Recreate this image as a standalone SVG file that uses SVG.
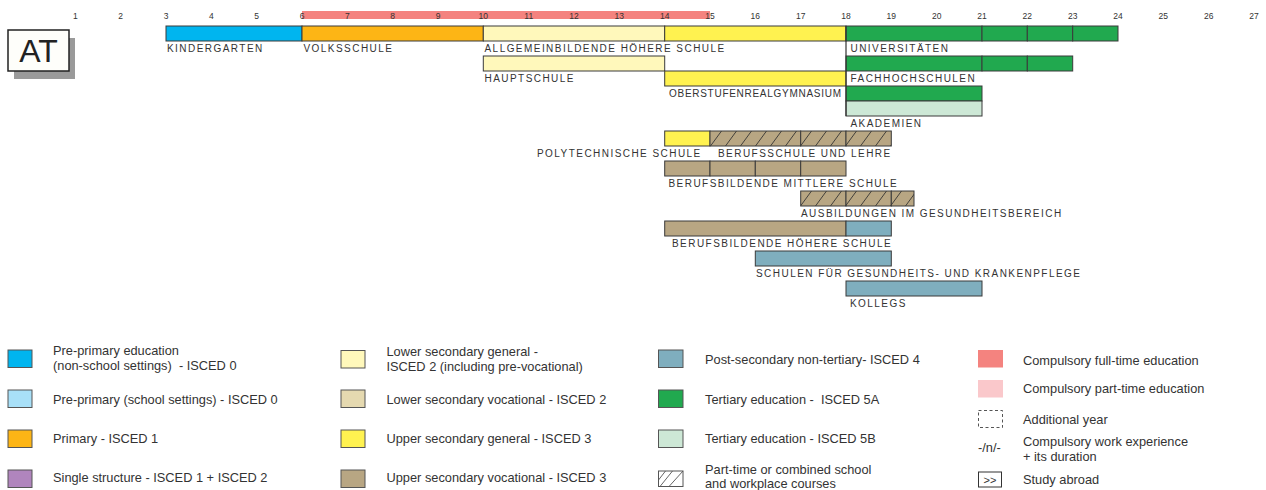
<svg xmlns="http://www.w3.org/2000/svg" width="1266" height="490" viewBox="0 0 1266 490">
<style>
text{font-family:"Liberation Sans",Arial,Helvetica,sans-serif;fill:#333}
.ax{font-size:8.5px;text-anchor:middle}
.lbl{font-size:10px;letter-spacing:1.45px}
.lg{font-size:12.8px}
.pre{white-space:pre}
.b{stroke:#3a3a3a;stroke-width:1}
.sw{stroke:#555;stroke-width:1}
.kg{fill:#00B5EF}
.pps{fill:#A8E0F8}
.pri{fill:#FDB515}
.ss{fill:#B085BD}
.lsg{fill:#FFF8BB}
.lsv{fill:#E5D9B0}
.usg{fill:#FFF250}
.usv{fill:#B8A683}
.pst{fill:#7FAEBE}
.t5a{fill:#21A94F}
.t5b{fill:#CDE8D6}
.hat{fill:url(#hatch)}
</style>
<defs>
<pattern id="hatch" patternUnits="userSpaceOnUse" x="710" y="11" width="15" height="15">
<rect width="15" height="15" fill="#B8A683"/>
<line x1="0.5" y1="15" x2="11.5" y2="0" stroke="#333" stroke-width="0.9"/>
</pattern>
</defs>

<g id="axis">
<rect x="302" y="11" width="408" height="8" fill="#F4837F"/>
<text class="ax" x="75.3" y="18.5">1</text>
<text class="ax" x="120.7" y="18.5">2</text>
<text class="ax" x="166" y="18.5">3</text>
<text class="ax" x="211.3" y="18.5">4</text>
<text class="ax" x="256.7" y="18.5">5</text>
<text class="ax" x="302" y="18.5">6</text>
<text class="ax" x="347.3" y="18.5">7</text>
<text class="ax" x="392.7" y="18.5">8</text>
<text class="ax" x="438" y="18.5">9</text>
<text class="ax" x="483.3" y="18.5">10</text>
<text class="ax" x="528.7" y="18.5">11</text>
<text class="ax" x="574" y="18.5">12</text>
<text class="ax" x="619.3" y="18.5">13</text>
<text class="ax" x="664.7" y="18.5">14</text>
<text class="ax" x="710" y="18.5">15</text>
<text class="ax" x="755.3" y="18.5">16</text>
<text class="ax" x="800.7" y="18.5">17</text>
<text class="ax" x="846" y="18.5">18</text>
<text class="ax" x="891.3" y="18.5">19</text>
<text class="ax" x="936.7" y="18.5">20</text>
<text class="ax" x="982" y="18.5">21</text>
<text class="ax" x="1027.3" y="18.5">22</text>
<text class="ax" x="1072.7" y="18.5">23</text>
<text class="ax" x="1118" y="18.5">24</text>
<text class="ax" x="1163.3" y="18.5">25</text>
<text class="ax" x="1208.7" y="18.5">26</text>
<text class="ax" x="1254" y="18.5">27</text>
</g>

<g id="country">
<rect x="14" y="38" width="61" height="41" fill="#9a9a9a"/>
<rect x="8" y="30" width="61" height="41" fill="#FEFEFA" stroke="#222" stroke-width="1.5"/>
<text x="38.5" y="62" font-size="32" text-anchor="middle" style="fill:#222">AT</text>
</g>

<g id="kindergarten">
<rect class="b kg" x="166" y="26" width="136" height="15"/>
<text class="lbl" x="167" y="52">KINDERGARTEN</text>
</g>
<g id="volksschule">
<rect class="b pri" x="302" y="26" width="181.3" height="15"/>
<text class="lbl" x="303.5" y="52">VOLKSSCHULE</text>
</g>
<g id="ahs">
<rect class="b lsg" x="483.3" y="26" width="181.4" height="15"/>
<rect class="b usg" x="664.7" y="26" width="181.3" height="15"/>
<text class="lbl" x="484.5" y="52">ALLGEMEINBILDENDE HÖHERE SCHULE</text>
</g>
<g id="universitaeten">
<rect class="b t5a" x="846" y="26" width="136" height="15"/>
<rect class="b t5a" x="982" y="26" width="45.3" height="15"/>
<rect class="b t5a" x="1027.3" y="26" width="45.4" height="15"/>
<rect class="b t5a" x="1072.7" y="26" width="45.3" height="15"/>
<text class="lbl" x="850.5" y="52">UNIVERSITÄTEN</text>
</g>
<g id="hauptschule">
<rect class="b lsg" x="483.3" y="56" width="181.4" height="15"/>
<text class="lbl" x="484.5" y="82">HAUPTSCHULE</text>
</g>
<g id="fachhochschulen">
<rect class="b t5a" x="846" y="56" width="136" height="15"/>
<rect class="b t5a" x="982" y="56" width="45.3" height="15"/>
<rect class="b t5a" x="1027.3" y="56" width="45.4" height="15"/>
<text class="lbl" x="850.5" y="82">FACHHOCHSCHULEN</text>
</g>
<g id="oberstufenrealgymnasium">
<rect class="b usg" x="664.7" y="71" width="181.3" height="15"/>
<text class="lbl" x="669" y="97" style="letter-spacing:0.72px">OBERSTUFENREALGYMNASIUM</text>
</g>
<g id="akademien">
<rect class="b t5a" x="846" y="86" width="136" height="15"/>
<rect class="b t5b" x="846" y="101" width="136" height="15"/>
<text class="lbl" x="850.5" y="127">AKADEMIEN</text>
</g>
<g id="polytechnische">
<rect class="b usg" x="664.7" y="131" width="45.3" height="15"/>
<text class="lbl" x="537" y="157">POLYTECHNISCHE SCHULE</text>
</g>
<g id="berufsschule">
<rect class="b hat" x="710" y="131" width="90.7" height="15"/>
<rect class="b hat" x="800.7" y="131" width="45.3" height="15"/>
<rect class="b hat" x="846" y="131" width="45.3" height="15"/>
<text class="lbl" x="718" y="157">BERUFSSCHULE UND LEHRE</text>
</g>
<g id="bms">
<rect class="b usv" x="664.7" y="161" width="45.3" height="15"/>
<rect class="b usv" x="710" y="161" width="45.3" height="15"/>
<rect class="b usv" x="755.3" y="161" width="45.4" height="15"/>
<rect class="b usv" x="800.7" y="161" width="45.3" height="15"/>
<text class="lbl" x="668.5" y="187">BERUFSBILDENDE MITTLERE SCHULE</text>
</g>
<g id="gesundheitsbereich">
<rect class="b hat" x="800.7" y="191" width="45.3" height="15"/>
<rect class="b hat" x="846" y="191" width="45.3" height="15"/>
<rect class="b hat" x="891.3" y="191" width="22.7" height="15"/>
<text class="lbl" x="801" y="217">AUSBILDUNGEN IM GESUNDHEITSBEREICH</text>
</g>
<g id="bhs">
<rect class="b usv" x="664.7" y="221" width="181.3" height="15"/>
<rect class="b pst" x="846" y="221" width="45.3" height="15"/>
<text class="lbl" x="672" y="247">BERUFSBILDENDE HÖHERE SCHULE</text>
</g>
<g id="krankenpflege">
<rect class="b pst" x="755.3" y="251" width="136" height="15"/>
<text class="lbl" x="756" y="277">SCHULEN FÜR GESUNDHEITS- UND KRANKENPFLEGE</text>
</g>
<g id="kollegs">
<rect class="b pst" x="846" y="281" width="136" height="15"/>
<text class="lbl" x="850" y="307">KOLLEGS</text>
</g>

<g id="connectors">
<line x1="846" y1="26" x2="846" y2="116" stroke="#333" stroke-width="1.2"/>
</g>

<g id="legend">
<rect class="sw kg" x="8" y="350" width="24" height="17.5"/>
<text class="lg" x="53" y="355">Pre-primary education</text>
<text class="lg pre" x="53" y="369.5">(non-school settings)  - ISCED 0</text>
<rect class="sw pps" x="8" y="390" width="24" height="17.5"/>
<text class="lg" x="53" y="403.5">Pre-primary (school settings) - ISCED 0</text>
<rect class="sw pri" x="8" y="430" width="24" height="17.5"/>
<text class="lg" x="53" y="443">Primary - ISCED 1</text>
<rect class="sw ss" x="8" y="470" width="24" height="17.5"/>
<text class="lg" x="53" y="482">Single structure - ISCED 1 + ISCED 2</text>

<rect class="sw lsg" x="341" y="350.5" width="24" height="17.5"/>
<text class="lg" x="386.5" y="356">Lower secondary general -</text>
<text class="lg" x="386.5" y="370.5">ISCED 2 (including pre-vocational)</text>
<rect class="sw lsv" x="341" y="390" width="24" height="17.5"/>
<text class="lg" x="386.5" y="404">Lower secondary vocational - ISCED 2</text>
<rect class="sw usg" x="341" y="430" width="24" height="17.5"/>
<text class="lg" x="386.5" y="443">Upper secondary general - ISCED 3</text>
<rect class="sw usv" x="341" y="470" width="24" height="17.5"/>
<text class="lg" x="386.5" y="482">Upper secondary vocational - ISCED 3</text>

<rect class="sw pst" x="658.5" y="350" width="24.5" height="17.5"/>
<text class="lg" x="705" y="364">Post-secondary non-tertiary- ISCED 4</text>
<rect class="sw t5a" x="658.5" y="390" width="24.5" height="17.5"/>
<text class="lg pre" x="705" y="404">Tertiary education -  ISCED 5A</text>
<rect class="sw t5b" x="658.5" y="430" width="24.5" height="17.5"/>
<text class="lg" x="705" y="443">Tertiary education - ISCED 5B</text>
<rect x="658.5" y="471" width="24.5" height="15.5" fill="#fff" stroke="#555" stroke-width="1"/>
<line x1="658.5" y1="480" x2="665.5" y2="471" stroke="#555" stroke-width="0.9"/>
<line x1="660" y1="486.5" x2="672.5" y2="471" stroke="#555" stroke-width="0.9"/>
<line x1="669" y1="486.5" x2="683" y2="471" stroke="#555" stroke-width="0.9"/>
<text class="lg" x="705" y="474">Part-time or combined school</text>
<text class="lg" x="705" y="488">and workplace courses</text>

<rect x="978" y="350" width="25" height="17.5" fill="#F4837F"/>
<text class="lg" x="1023" y="364.5">Compulsory full-time education</text>
<rect x="978" y="380" width="25" height="17.5" fill="#FAC8CB"/>
<text class="lg" x="1023" y="392.5">Compulsory part-time education</text>
<rect x="978.5" y="410.5" width="24" height="17" fill="none" stroke="#555" stroke-width="1" stroke-dasharray="3,2.5"/>
<text class="lg" x="1023" y="423.5">Additional year</text>
<text class="lg" x="978" y="452">-/n/-</text>
<text class="lg" x="1023" y="446">Compulsory work experience</text>
<text class="lg" x="1023" y="460.5">+ its duration</text>
<rect x="978.5" y="472" width="23" height="15" fill="#fff" stroke="#333" stroke-width="1"/>
<text x="990" y="483.5" font-size="11" text-anchor="middle">&gt;&gt;</text>
<text class="lg" x="1023" y="483.5">Study abroad</text>
</g>
</svg>
